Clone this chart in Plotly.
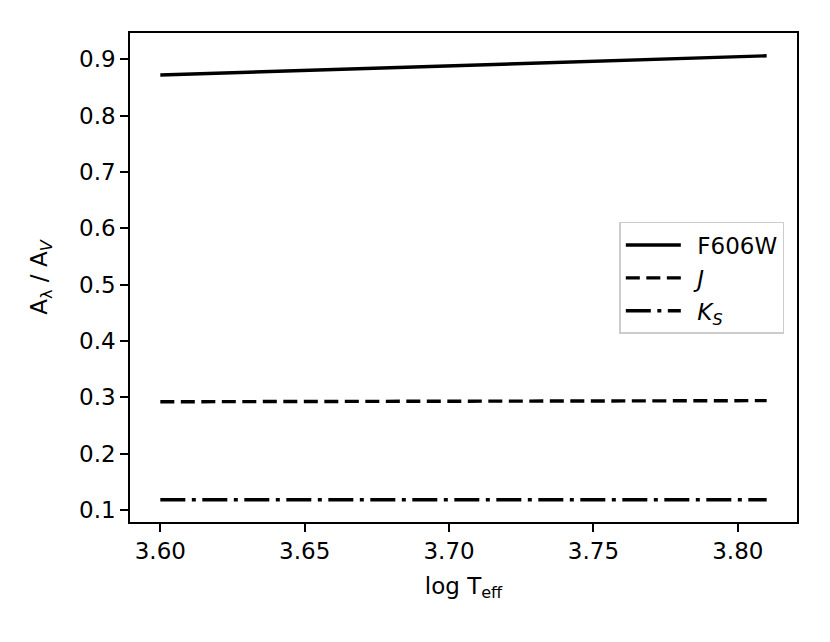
import plotly.graph_objects as go

log_teff = [3.60, 3.65, 3.70, 3.75, 3.81]
a_f606w = [0.872, 0.880, 0.889, 0.897, 0.906]
a_j = [0.292, 0.2925, 0.293, 0.2935, 0.294]
a_ks = [0.1180, 0.1180, 0.1181, 0.1181, 0.1182]

x_ticks = [3.60, 3.65, 3.70, 3.75, 3.80]
y_ticks = [0.1, 0.2, 0.3, 0.4, 0.5, 0.6, 0.7, 0.8, 0.9]

FONT = "DejaVu Sans"
FS = 23
LW = 3.4
SP = "\u2002"

fig = go.Figure()
fig.add_trace(go.Scatter(x=log_teff, y=a_f606w, mode="lines", name=SP + "F606W",
                         line=dict(color="black", width=LW)))
fig.add_trace(go.Scatter(x=log_teff, y=a_j, mode="lines", name=SP + "<i>J</i>",
                         line=dict(color="black", width=LW, dash="14px,6.5px")))
fig.add_trace(go.Scatter(x=log_teff, y=a_ks, mode="lines", name=SP + "<i>K<sub>S</sub></i>",
                         line=dict(color="black", width=LW, dash="25px,6.5px,4px,6.5px")))

axis_common = dict(showline=True, linecolor="black", linewidth=1.6, mirror=True,
                   ticks="outside", ticklen=8, tickwidth=1.6, tickcolor="black",
                   showgrid=False, zeroline=False, automargin=False,
                   tickfont=dict(family=FONT, size=FS, color="black"))

fig.update_xaxes(range=[3.5895, 3.8205], tickvals=x_ticks,
                 ticktext=[f"{v:.2f}" for v in x_ticks],
                 title=dict(text="log T<sub>eff</sub>", font=dict(family=FONT, size=FS, color="black"),
                            standoff=14),
                 **axis_common)
fig.update_yaxes(range=[0.0786, 0.9465], tickvals=y_ticks,
                 ticktext=[f"{v:.1f}" for v in y_ticks],
                 title=dict(text="A<sub>λ</sub> / A<sub><i>V</i></sub>", font=dict(family=FONT, size=FS, color="black"),
                            standoff=25),
                 **axis_common)

# page body adds an 8px offset, so the figure is sized to compensate
fig.update_layout(
    width=822, height=634,
    margin=dict(l=122, r=33, t=25, b=120),
    paper_bgcolor="white", plot_bgcolor="white",
    font=dict(family=FONT, size=FS, color="black"),
    showlegend=True,
    legend=dict(x=0.981, y=0.6135, xanchor="right", yanchor="top",
                bgcolor="rgba(255,255,255,0.8)", bordercolor="#cccccc", borderwidth=1.5,
                font=dict(family=FONT, size=FS, color="black"),
                itemwidth=55, tracegroupgap=0),
)

fig.write_html("out.html")
